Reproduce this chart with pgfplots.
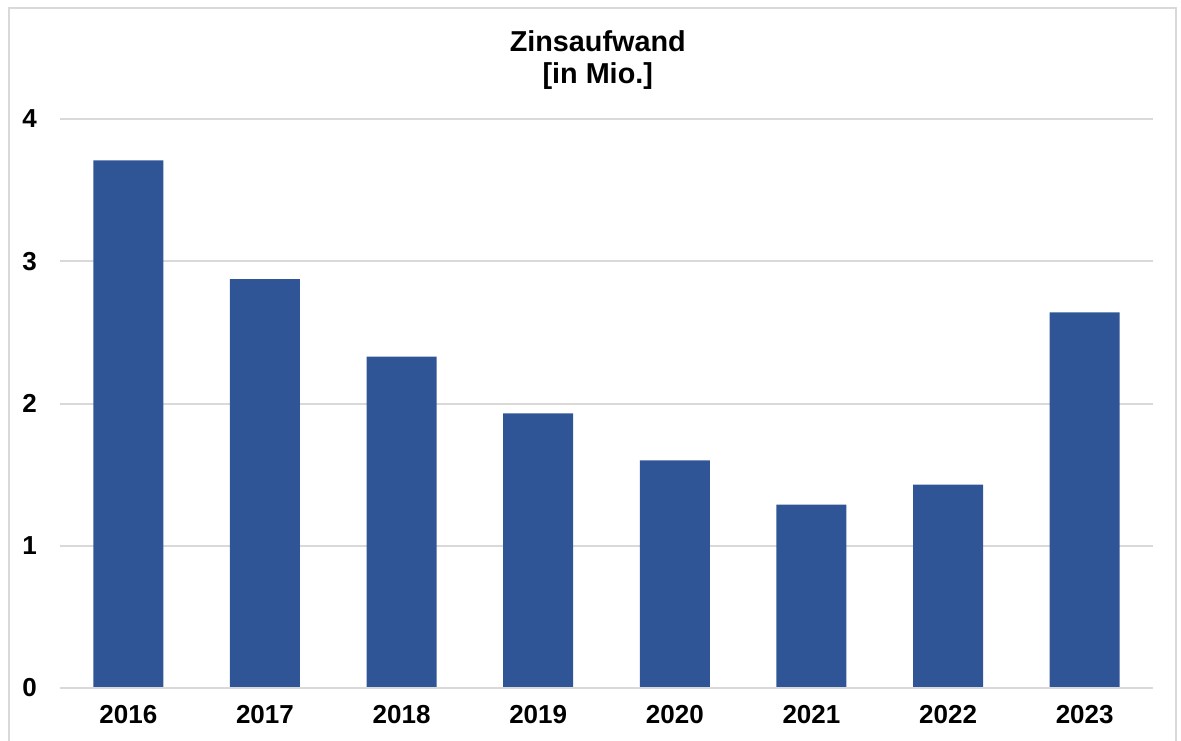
\documentclass[border=0pt]{standalone}
\usepackage{fontspec}
\setmainfont{Liberation Sans}
\usepackage{pgfplots}
\pgfplotsset{compat=1.18}
\definecolor{barblue}{HTML}{2F5597}
\definecolor{gridgrey}{HTML}{D9D9D9}
\begin{document}
\begin{tikzpicture}
% page area: 1181x740 px at 0.5pt per px, axis origin at px (60,688)
\path[use as bounding box] (-30pt,-26pt) rectangle (560.5pt,344pt);
\draw[gridgrey, line width=1pt] (-25.5pt,-27pt) -- (-25.5pt,340pt) -- (558pt,340pt) -- (558pt,-27pt);
\begin{axis}[
    at={(0,0)}, anchor=south west,
    scale only axis,
    width=546.5pt, height=284.5pt,
    ybar, bar width=35pt,
    xmin=-0.5, xmax=7.5,
    ymin=0, ymax=4,
    xtick=data,
    xticklabels={2016,2017,2018,2019,2020,2021,2022,2023},
    ytick={0,1,2,3,4},
    axis line style={draw=none},
    axis x line*=bottom,
    ymajorgrids,
    grid style={gridgrey, line width=1pt},
    major tick length=0pt,
    tick style={draw=none},
    /pgf/number format/assume math mode=true,
    ticklabel style={font=\fontsize{13}{15}\selectfont\bfseries},
    yticklabel style={xshift=-8pt},
    xticklabel style={yshift=-5pt},
    title={Zinsaufwand\\{}[in Mio.]},
    title style={at={(0.492,1)}, anchor=south, yshift=5pt, align=center,
        font=\fontsize{14.4}{16}\selectfont\bfseries},
    clip=false,
]
\addplot[fill=barblue, draw=none] coordinates {
    (0,3.71) (1,2.875) (2,2.33) (3,1.93) (4,1.60) (5,1.29) (6,1.43) (7,2.64)
};
\draw[gridgrey, line width=1pt] (axis cs:-0.5,0) -- (axis cs:7.5,0);
\end{axis}
\end{tikzpicture}
\end{document}
